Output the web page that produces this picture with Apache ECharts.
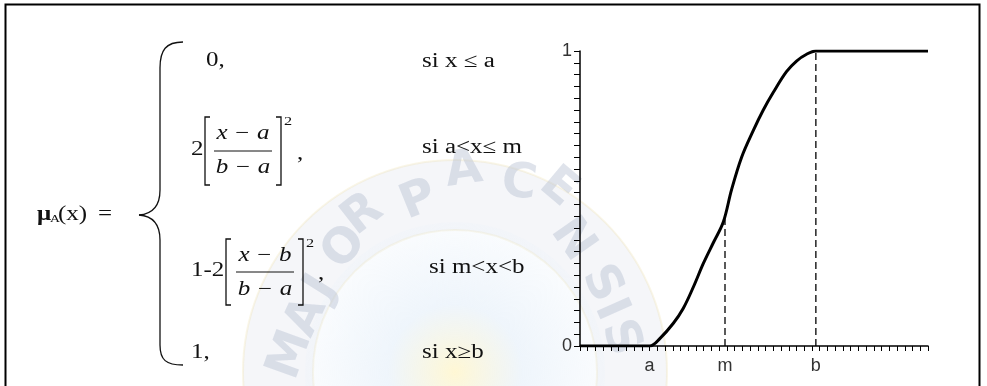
<!DOCTYPE html>
<html><head><meta charset="utf-8">
<script src="https://cdn.jsdelivr.net/npm/echarts@6/dist/echarts.min.js"></script>
<style>html,body{margin:0;padding:0;background:#fff}#c{width:987px;height:386px}</style>
</head><body><div id="c"></div>
<script>
// ---- data ----
const curveX = [0, 9, 10.35, 12.07, 13.36, 14.66, 15.95, 17.24, 18.53, 19.6, 20.9, 22.4, 23.7, 25.0, 26.7, 28.0, 29.3, 30.5, 45];
const curveY = [0, 0, 0.026, 0.077, 0.128, 0.20, 0.28, 0.35, 0.42, 0.53, 0.64, 0.73, 0.80, 0.86, 0.93, 0.966, 0.989, 1, 1];
const guideX = [18.75, 30.5];
const guideTop = [0.43, 1];
const xTickValues = [9, 18.75, 30.5];
const xTickLabels = ['a', 'm', 'b'];
const yTickValues = [0, 1];
const yTickLabels = ['0', '1'];
const rowLead = ['0,', '2', '1-2', '1,'];
const conditions = ['si x \u2264 a', 'si a<x\u2264 m', 'si m<x<b', 'si x\u2265b'];
const numerators = ['x \u2212 a', 'x \u2212 b'];
const denominators = ['b \u2212 a', 'b \u2212 a'];
const watermarkLetters = ['M','A','J','O','R','P','A','C','E','N','S','I','S'];

// ---- layout ----
const SERIF = '"Liberation Serif", "DejaVu Serif", serif';
const SX = 1.25;
const g = [];
function txt(x, y, text, size, opts) {
  opts = opts || {};
  g.push({type: 'text', x: x, y: y, scaleX: opts.sx || SX, rotation: opts.rot || 0, z: opts.z || 10,
    style: {text: text, fill: opts.fill || '#111',
      font: (opts.style || 'normal') + ' ' + (opts.weight || 'normal') + ' ' + size + 'px ' + (opts.family || SERIF),
      align: opts.align || 'left', verticalAlign: 'middle', textAlign: opts.align || 'left', textVerticalAlign: 'middle'}});
}
function poly(points, w) {
  g.push({type: 'polyline', z: 10, shape: {points: points}, style: {stroke: '#111', lineWidth: w || 1.3, fill: null}});
}
function bez(x1, y1, c1x, c1y, c2x, c2y, x2, y2) {
  g.push({type: 'bezierCurve', z: 10, shape: {x1: x1, y1: y1, cpx1: c1x, cpy1: c1y, cpx2: c2x, cpy2: c2y, x2: x2, y2: y2},
    style: {stroke: '#111', lineWidth: 1.3, fill: null}});
}

// watermark (faint)
g.push({type: 'ring', z: -6, shape: {cx: 455, cy: 372, r: 212, r0: 142},
  style: {fill: 'rgba(205,211,224,0.2)', stroke: 'rgba(235,220,160,0.25)', lineWidth: 2}});
g.push({type: 'circle', z: -5, shape: {cx: 455, cy: 372, r: 150},
  style: {fill: new echarts.graphic.RadialGradient(0.5, 0.5, 0.5, [
    {offset: 0, color: 'rgba(255,246,205,0.85)'},
    {offset: 0.45, color: 'rgba(232,241,250,0.7)'},
    {offset: 1, color: 'rgba(232,241,250,0.2)'}])}});
const wmPos = [[291,355,70],[307,317,65],[322,288,58],[345,248,48],[363,215,38],[419,201,22],[464,171,8],[519,184,-8],[558,188,-40],[572,240,-55],[601,284,-62],[610,310,-66],[620,338,-70]];
wmPos.forEach(function (p, i) {
  g.push({type: 'text', x: p[0], y: p[1], rotation: p[2] * Math.PI / 180, z: -4,
    style: {text: watermarkLetters[i], fill: 'rgba(185,193,210,0.45)', font: 'bold 48px "DejaVu Sans", sans-serif',
      align: 'center', verticalAlign: 'middle', textAlign: 'center', textVerticalAlign: 'middle'}});
});

// frame
g.push({type: 'rect', z: 10, shape: {x: 5.5, y: 4.5, width: 974, height: 420}, style: {fill: null, stroke: '#000', lineWidth: 2}});

// mu_A(x) =
txt(37, 215, '\u03bc', 20, {weight: 'bold'});
txt(50, 219, 'A', 11);
txt(58, 215, '(x)', 20);
txt(98, 215, '=', 20);
// brace
bez(183, 42, 166, 42, 160, 50, 160, 68);
poly([[160, 68], [160, 190]]);
bez(160, 190, 160, 207, 152, 214, 139, 215);
bez(139, 215, 152, 216, 160, 223, 160, 240);
poly([[160, 240], [160, 345]]);
bez(160, 345, 160, 360, 166, 365, 183, 365);
// row 1
txt(206, 61, rowLead[0], 20);
txt(422, 62, conditions[0], 20);
// row 2
txt(191, 150, rowLead[1], 20);
poly([[210,117],[205,117],[205,185],[210,185]]);
poly([[276,117],[281,117],[281,185],[276,185]]);
poly([[214,151],[272,151]], 1);
txt(243, 134, numerators[0], 20, {align: 'center', style: 'italic'});
txt(243, 168, denominators[0], 20, {align: 'center', style: 'italic'});
txt(284, 122, '2', 13);
txt(297, 154, ',', 20);
txt(422, 148, conditions[1], 20);
// row 3
txt(191, 271, rowLead[2], 20);
poly([[231,239],[226,239],[226,305],[231,305]]);
poly([[298,239],[303,239],[303,305],[298,305]]);
poly([[236,272],[294,272]], 1);
txt(265, 256, numerators[1], 20, {align: 'center', style: 'italic'});
txt(265, 290, denominators[1], 20, {align: 'center', style: 'italic'});
txt(306, 244, '2', 13);
txt(318, 274, ',', 20);
txt(429, 268, conditions[2], 20);
// row 4
txt(191, 353, rowLead[3], 20);
txt(422, 353, conditions[3], 20);

const chart = echarts.init(document.getElementById('c'));
const SANS = '"Liberation Sans", Arial, sans-serif';
chart.setOption({
  animation: false,
  backgroundColor: 'transparent',
  graphic: g,
  grid: {left: 580, right: 59, top: 51, bottom: 40, containLabel: false},
  xAxis: {type: 'value', min: 0, max: 45, interval: 1,
    axisLine: {show: true, onZero: false, lineStyle: {color: '#000', width: 1.5}},
    axisTick: {show: true, length: 5, lineStyle: {color: '#000', width: 1}},
    axisLabel: {customValues: xTickValues, margin: 11, color: '#333', fontSize: 18, fontFamily: SANS,
      formatter: function (v) { const i = xTickValues.indexOf(v); return i >= 0 ? xTickLabels[i] : ''; }},
    splitLine: {show: false}},
  yAxis: {type: 'value', min: 0, max: 1, interval: 0.04,
    axisLine: {show: true, lineStyle: {color: '#000', width: 1.5}},
    axisTick: {show: true, length: 6, lineStyle: {color: '#000', width: 1}},
    axisLabel: {customValues: yTickValues, margin: 8, color: '#333', fontSize: 18, fontFamily: SANS,
      formatter: function (v) { const i = yTickValues.indexOf(v); return i >= 0 ? yTickLabels[i] : ''; }},
    splitLine: {show: false}},
  series: [
    {type: 'line', data: curveX.map(function (x, i) { return [x, curveY[i]]; }), smooth: 0.35,
      showSymbol: false, lineStyle: {color: '#000', width: 3}, z: 5},
    {type: 'line', data: [[guideX[0], 0], [guideX[0], guideTop[0]]], showSymbol: false,
      lineStyle: {color: '#000', width: 1.3, type: [7, 4]}, z: 4},
    {type: 'line', data: [[guideX[1], 0], [guideX[1], guideTop[1]]], showSymbol: false,
      lineStyle: {color: '#000', width: 1.3, type: [7, 4]}, z: 4}
  ]
});
</script></body></html>
